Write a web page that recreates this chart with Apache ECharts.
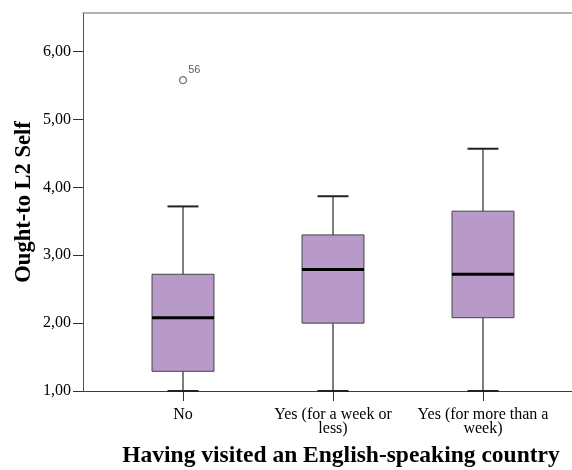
<!DOCTYPE html>
<html>
<head>
<meta charset="utf-8">
<script src="https://cdn.jsdelivr.net/npm/echarts@6/dist/echarts.min.js"></script>
<style>
  html, body { margin: 0; padding: 0; background: #fff; }
  #chart { width: 572px; height: 470px; }
</style>
</head>
<body>
<div id="chart"></div>
<script>
const categories = ['No', 'Yes (for a week or\nless)', 'Yes (for more than a\nweek)'];
const whiskerLow = [1.00, 1.00, 1.00];
const q1 = [1.29, 2.00, 2.08];
const median = [2.08, 2.79, 2.72];
const q3 = [2.72, 3.30, 3.65];
const whiskerHigh = [3.72, 3.87, 4.57];
const outlierCategory = [0];
const outlierValue = [5.58];
const outlierLabel = ['56'];
const yTicks = [1, 2, 3, 4, 5, 6];
const xTitle = 'Having visited an English-speaking country';
const yTitle = 'Ought-to L2 Self';

const boxData = categories.map((c, i) => [i, whiskerLow[i], q1[i], median[i], q3[i], whiskerHigh[i]]);
const outlierData = outlierCategory.map((c, i) => ({ value: [c, outlierValue[i]], name: outlierLabel[i] }));

const serif = 'Liberation Serif, Times New Roman, serif';
const chart = echarts.init(document.getElementById('chart'), null, { renderer: 'canvas' });

chart.setOption({
  animation: false,
  backgroundColor: '#fff',
  grid: [
    { left: 108, top: 13, width: 450, bottom: 79, show: false, containLabel: false, outerBoundsMode: 'none' },
    { left: 83, top: 13, width: 520, bottom: 79, show: false, containLabel: false, outerBoundsMode: 'none' }
  ],
  xAxis: [
    {
      type: 'category', gridIndex: 0, data: categories, boundaryGap: true,
      axisLine: { show: false },
      axisTick: { show: true, alignWithLabel: true, length: 10, inside: false, lineStyle: { color: '#333', width: 1 } },
      axisLabel: { color: '#000', fontFamily: serif, fontSize: 16, lineHeight: 14, margin: 17, interval: 0 },
      splitLine: { show: false },
      name: xTitle, nameLocation: 'middle', nameGap: 53, nameMoveOverlap: false,
      nameTextStyle: { color: '#000', fontFamily: serif, fontSize: 23.5, fontWeight: 'bold', padding: [0, 0, 0, 16] }
    },
    {
      type: 'value', gridIndex: 1, min: 0, max: 1, position: 'bottom',
      axisLine: { show: true, lineStyle: { color: '#3a3a3a', width: 1 } },
      axisTick: { show: false }, axisLabel: { show: false }, splitLine: { show: false }
    },
    {
      type: 'value', gridIndex: 1, min: 0, max: 1, position: 'top',
      axisLine: { show: true, lineStyle: { color: '#999', width: 1.5 } },
      axisTick: { show: false }, axisLabel: { show: false }, splitLine: { show: false }
    }
  ],
  yAxis: [
    {
      type: 'value', gridIndex: 0, min: 1, max: 6.57, interval: 1,
      show: false, splitLine: { show: false }
    },
    {
      type: 'value', gridIndex: 1, min: 1, max: 6.57, interval: 1,
      axisLine: { show: true, lineStyle: { color: '#555', width: 1 } },
      axisTick: { show: true, length: 10, customValues: yTicks, lineStyle: { color: '#333', width: 1 } },
      axisLabel: {
        customValues: yTicks, color: '#000', fontFamily: serif, fontSize: 16, margin: 12,
        formatter: v => v.toFixed(2).replace('.', ',')
      },
      splitLine: { show: false },
      name: yTitle, nameLocation: 'middle', nameGap: 47, nameRotate: 90, nameMoveOverlap: false,
      nameTextStyle: { color: '#000', fontFamily: serif, fontSize: 22.5, fontWeight: 'bold' }
    }
  ],
  series: [
    {
      type: 'custom', xAxisIndex: 0, yAxisIndex: 0,
      data: boxData,
      encode: { x: 0, y: [1, 2, 3, 4, 5] },
      clip: false,
      renderItem: function (params, api) {
        const x = api.value(0);
        const pLow = api.coord([x, api.value(1)]);
        const pQ1 = api.coord([x, api.value(2)]);
        const pMed = api.coord([x, api.value(3)]);
        const pQ3 = api.coord([x, api.value(4)]);
        const pHigh = api.coord([x, api.value(5)]);
        const band = api.size([1, 0])[0];
        const bw = band * 0.413;
        const cw = bw / 2;
        const cx = pMed[0];
        const whisk = { stroke: '#555', lineWidth: 1.5 };
        const cap = { stroke: '#222', lineWidth: 2 };
        return {
          type: 'group',
          children: [
            { type: 'line', shape: { x1: cx, y1: pHigh[1], x2: cx, y2: pQ3[1] }, style: whisk },
            { type: 'line', shape: { x1: cx, y1: pQ1[1], x2: cx, y2: pLow[1] }, style: whisk },
            { type: 'line', shape: { x1: cx - cw / 2, y1: pHigh[1], x2: cx + cw / 2, y2: pHigh[1] }, style: cap },
            { type: 'line', shape: { x1: cx - cw / 2, y1: pLow[1], x2: cx + cw / 2, y2: pLow[1] }, style: cap },
            { type: 'rect', shape: { x: cx - bw / 2, y: pQ3[1], width: bw, height: pQ1[1] - pQ3[1] },
              style: { fill: '#B79AC8', stroke: '#444', lineWidth: 1 } },
            { type: 'line', shape: { x1: cx - bw / 2, y1: pMed[1], x2: cx + bw / 2, y2: pMed[1] },
              style: { stroke: '#000', lineWidth: 3 } }
          ]
        };
      }
    },
    {
      type: 'scatter', xAxisIndex: 0, yAxisIndex: 0,
      data: outlierData,
      symbol: 'circle', symbolSize: 7,
      itemStyle: { color: '#fff', borderColor: '#555', borderWidth: 1.3 },
      label: {
        show: true, position: 'right', distance: 1, offset: [0, -10],
        formatter: p => p.name,
        fontFamily: 'Liberation Sans, Arial, sans-serif', fontSize: 11, color: '#333'
      }
    }
  ]
});
</script>
</body>
</html>
